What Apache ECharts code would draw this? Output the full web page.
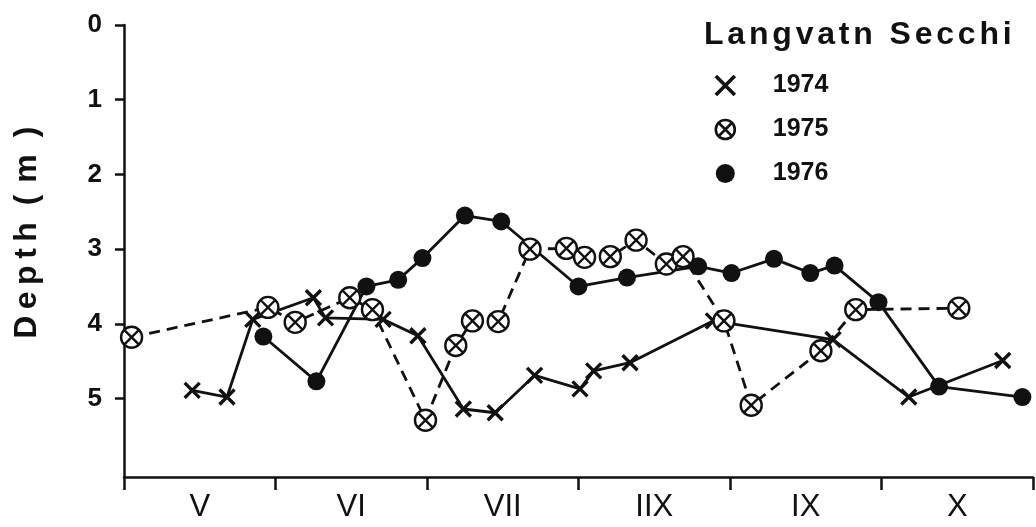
<!DOCTYPE html>
<html>
<head>
<meta charset="utf-8">
<script src="https://cdn.jsdelivr.net/npm/echarts@6/dist/echarts.min.js"></script>
<style>
  html, body { margin: 0; padding: 0; background: #fff; }
  #chart { width: 1036px; height: 527px; }
</style>
</head>
<body>
<div id="chart"></div>
<script>
// Secchi depth readings, Langvatn, three seasons.
// Position along the season is in months from 1 May (0 = start of May).
const months = ['V', 'VI', 'VII', 'IIX', 'IX', 'X'];
const depthTicks = [0, 1, 2, 3, 4, 5];

const pos1974 = [0.45, 0.68, 0.85, 1.25, 1.33, 1.71, 1.94, 2.24, 2.45, 2.71, 3.01, 3.10, 3.34, 3.89, 4.68, 5.18, 5.80];
const depth1974 = [4.89, 4.98, 3.94, 3.65, 3.92, 3.94, 4.16, 5.14, 5.19, 4.69, 4.87, 4.63, 4.52, 3.96, 4.21, 4.98, 4.49];

const pos1975 = [0.05, 0.95, 1.13, 1.49, 1.64, 1.99, 2.19, 2.30, 2.47, 2.68, 2.92, 3.04, 3.21, 3.38, 3.58, 3.69, 3.96, 4.14, 4.60, 4.83, 5.51];
const depth1975 = [4.18, 3.78, 3.98, 3.65, 3.81, 5.29, 4.29, 3.96, 3.97, 3.00, 2.99, 3.11, 3.10, 2.88, 3.20, 3.10, 3.96, 5.09, 4.36, 3.81, 3.79];

const pos1976 = [0.92, 1.27, 1.60, 1.81, 1.97, 2.25, 2.49, 3.00, 3.32, 3.79, 4.01, 4.29, 4.53, 4.69, 4.98, 5.38, 5.93];
const depth1976 = [4.17, 4.77, 3.50, 3.41, 3.12, 2.55, 2.63, 3.50, 3.38, 3.23, 3.32, 3.13, 3.32, 3.22, 3.71, 4.84, 4.98];

const INK = '#111';
const FONT = '"Liberation Sans", Arial, Helvetica, sans-serif';

// marker shapes
const CROSS = 'path://M0,0L10,10M10,0L0,10';
const CIRCLE_CROSS = 'path://M0,10A10,10,0,1,1,20,10A10,10,0,1,1,0,10Z' +
  'M2.93,2.93L17.07,17.07M17.07,2.93L2.93,17.07';

function pairs(xs, ys) { return xs.map((x, i) => [x, ys[i]]); }

// tracked lettering: each character becomes its own rich fragment with trailing padding
function tracked(str, letterStyle, gapStyle) {
  return str.split('').map(ch => {
    const isLetter = /[A-Za-z0-9]/.test(ch);
    return '{' + (isLetter ? letterStyle : gapStyle) + '|' + ch + '}';
  }).join('');
}

const chart = echarts.init(document.getElementById('chart'), null, { renderer: 'canvas' });

const lineBase = {
  type: 'line',
  xAxisIndex: 0,
  showAllSymbol: true,
  symbolKeepAspect: true,
  animation: false,
  emphasis: { disabled: true }
};

chart.setOption({
  backgroundColor: '#fff',
  animation: false,
  grid: { left: 124, right: 3, top: 25, bottom: 50, containLabel: false },
  xAxis: [
    {
      type: 'value', min: 0, max: 6, show: false
    },
    {
      type: 'category',
      data: months,
      position: 'bottom',
      boundaryGap: true,
      axisLine: { show: true, lineStyle: { color: INK, width: 2.5 } },
      axisTick: { show: true, alignWithLabel: false, length: 13, lineStyle: { color: INK, width: 2.5 } },
      axisLabel: { color: INK, fontFamily: FONT, fontSize: 31, margin: 15 },
      splitLine: { show: false }
    }
  ],
  yAxis: {
    type: 'value',
    inverse: true,
    min: 0,
    max: 6.05,
    interval: 1,
    axisLine: { show: true, onZero: false, lineStyle: { color: INK, width: 2.5 } },
    axisTick: { show: true, length: 9, customValues: depthTicks, lineStyle: { color: INK, width: 2.5 } },
    axisLabel: { color: INK, fontFamily: FONT, fontSize: 26, fontWeight: 'bold', margin: 22, customValues: depthTicks },
    splitLine: { show: false }
  },
  legend: {
    orient: 'vertical',
    left: 709,
    top: 68,
    padding: 5,
    itemWidth: 19,
    itemHeight: 19,
    itemGap: 19,
    data: [
      { name: '1974', icon: CROSS, itemStyle: { color: INK, borderColor: INK, borderWidth: 3.6 } },
      { name: '1975', icon: CIRCLE_CROSS, itemStyle: { color: '#fff', borderColor: INK, borderWidth: 2.6 } },
      { name: '1976', icon: 'circle', itemStyle: { color: INK, borderWidth: 0 } }
    ],
    formatter: name => '{t|' + name + '}',
    textStyle: {
      color: INK,
      rich: {
        t: { fontFamily: FONT, fontSize: 25, fontWeight: 'bold', color: INK, lineHeight: 25, padding: [0, 0, 0, 33] }
      }
    },
    selectedMode: false
  },
  graphic: [
    {
      type: 'text',
      x: 704,
      y: 35,
      style: {
        text: tracked('Langvatn Secchi', 'c', 's'),
        align: 'left',
        verticalAlign: 'middle',
        rich: {
          c: { fontFamily: FONT, fontSize: 32, fontWeight: 'bold', fill: INK, padding: [0, 3.8, 0, 0] },
          s: { fontFamily: FONT, fontSize: 32, fontWeight: 'bold', fill: INK, padding: [0, 4, 0, 0] }
        }
      }
    },
    {
      type: 'text',
      x: 27,
      y: 232,
      rotation: Math.PI / 2,
      style: {
        text: tracked('Depth ( m )', 'c', 's'),
        align: 'center',
        verticalAlign: 'middle',
        rich: {
          c: { fontFamily: FONT, fontSize: 32, fontWeight: 'bold', fill: INK, padding: [0, 6.5, 0, 0] },
          s: { fontFamily: FONT, fontSize: 32, fontWeight: 'bold', fill: INK, padding: [0, 1.5, 0, 0] }
        }
      }
    }
  ],
  series: [
    Object.assign({}, lineBase, {
      name: '1974',
      data: pairs(pos1974, depth1974),
      symbol: CROSS,
      symbolSize: 15,
      lineStyle: { color: INK, width: 2.8, type: 'solid' },
      itemStyle: { color: INK, borderColor: INK, borderWidth: 3.4 }
    }),
    Object.assign({}, lineBase, {
      name: '1976',
      data: pairs(pos1976, depth1976),
      symbol: 'circle',
      symbolSize: 18,
      lineStyle: { color: INK, width: 2.8, type: 'solid' },
      itemStyle: { color: INK, borderColor: INK, borderWidth: 0 }
    }),
    Object.assign({}, lineBase, {
      name: '1975',
      data: pairs(pos1975, depth1975),
      symbol: CIRCLE_CROSS,
      symbolSize: 21,
      lineStyle: { color: INK, width: 2.8, type: [11, 7] },
      itemStyle: { color: '#fff', borderColor: INK, borderWidth: 2.4 }
    })
  ]
});
</script>
</body>
</html>
